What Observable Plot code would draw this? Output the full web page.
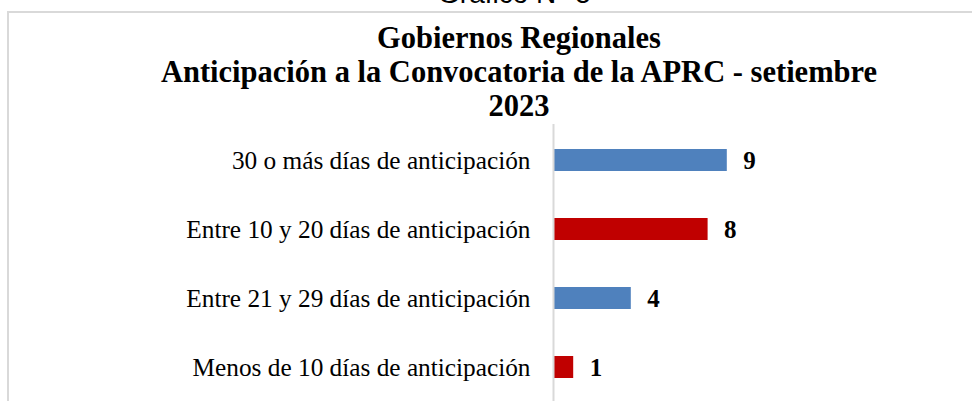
<!DOCTYPE html>
<html>
<head>
<meta charset="utf-8">
<script src="https://cdn.jsdelivr.net/npm/d3@7"></script>
<script src="https://cdn.jsdelivr.net/npm/@observablehq/plot@0.6"></script>
<style>
  html, body { margin: 0; padding: 0; background: #fff; }
  #wrap { position: relative; width: 972px; height: 401px; overflow: hidden; background: #fff; }
  #cap { position: absolute; left: 0; width: 1029px; top: -25px; text-align: center;
         font-family: "Liberation Sans", Arial, sans-serif; font-size: 28px; color: #000; line-height: 38px; }
  #box { position: absolute; left: 7px; top: 11px; width: 1000px; height: 500px;
         border: 2px solid #d9d9d9; box-sizing: border-box; }
  #title { position: absolute; left: 0; width: 1038px; top: 21px; text-align: center;
           font-family: "Liberation Serif", "Times New Roman", serif; font-weight: bold;
           font-size: 30.5px; line-height: 34px; color: #000; }
  #chart { position: absolute; left: 0; top: 124px; }
</style>
</head>
<body>
<div id="wrap">
  <div id="cap"></div>
  <div id="box"></div>
  <div id="title"></div>
  <div id="chart"></div>
</div>
<script>
const caption = "Gráfico N° 5";
const titleLines = ["Gobiernos Regionales", "Anticipación a la Convocatoria de la APRC - setiembre", "2023"];
const categories = [
  "30 o más días de anticipación",
  "Entre 10 y 20 días de anticipación",
  "Entre 21 y 29 días de anticipación",
  "Menos de 10 días de anticipación"
];
const values = [9, 8, 4, 1];
const colors = ["#4F81BD", "#C00000", "#4F81BD", "#C00000"];

document.getElementById("cap").textContent = caption;
document.getElementById("title").innerHTML = titleLines.map(s => `<div>${s}</div>`).join("");

const data = categories.map((c, i) => ({category: c, value: values[i], color: colors[i]}));

const chart = Plot.plot({
  width: 972,
  height: 277,
  marginLeft: 554,
  marginRight: 226,
  marginTop: 10,
  marginBottom: 8,
  style: {fontFamily: "'Liberation Serif', 'Times New Roman', serif", background: "transparent", color: "#000"},
  x: {domain: [0, 10], axis: null},
  y: {domain: categories, paddingInner: 0.684, paddingOuter: 0.2, label: null},
  marks: [
    Plot.barX(data, {x: "value", y: "category", fill: "color"}),
    Plot.ruleX([0], {stroke: "#d9d9d9", strokeWidth: 2, dx: -1, insetTop: -10, insetBottom: -8}),
    Plot.axisY({tickSize: 0, tickPadding: 24, fontSize: 25.3, label: null, fill: "#000"}),
    Plot.text(data, {x: "value", y: "category", text: d => String(d.value), dx: 16, textAnchor: "start",
      fontSize: 25, fontWeight: "bold", fill: "#000"})
  ]
});
document.getElementById("chart").appendChild(chart);
</script>
</body>
</html>
